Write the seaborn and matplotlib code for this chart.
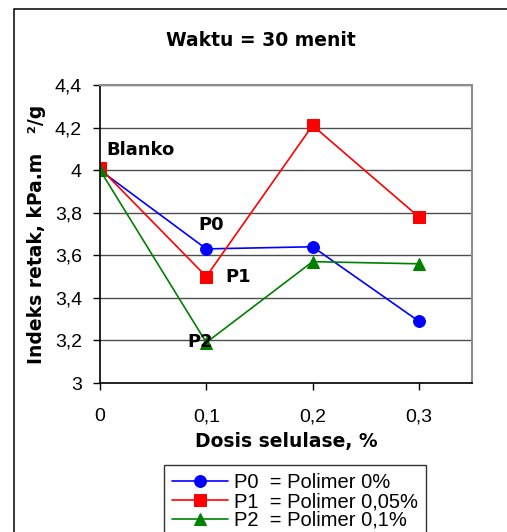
import numpy as np
import pandas as pd
import matplotlib
matplotlib.use('Agg')
import matplotlib.pyplot as plt
import seaborn as sns
from matplotlib.patches import Rectangle

# data
dosis = [0, 0.1, 0.2, 0.3]
p0 = [4.00, 3.63, 3.64, 3.29]
p1 = [4.01, 3.50, 4.21, 3.78]
p2 = [4.00, 3.19, 3.57, 3.56]
seri_label = ['P0  = Polimer 0%', 'P1  = Polimer 0,05%', 'P2  = Polimer 0,1%']
xtick_vals = [0, 0.1, 0.2, 0.3]
xtick_labels = ['0', '0,1', '0,2', '0,3']
ytick_vals = [3.0, 3.2, 3.4, 3.6, 3.8, 4.0, 4.2, 4.4]
ytick_labels = ['3', '3,2', '3,4', '3,6', '3,8', '4', '4,2', '4,4']
anotasi = ['Blanko', 'P0', 'P1', 'P2']
anotasi_x = [0.006, 0.093, 0.118, 0.082]
anotasi_y = [4.095, 3.742, 3.50, 3.194]

sns.set_style("white")
plt.rcParams['font.family'] = ['Liberation Sans', 'DejaVu Sans']
for k in ['text.color', 'axes.labelcolor', 'xtick.color', 'ytick.color']:
    plt.rcParams[k] = 'black'
tebal = dict(family='DejaVu Sans', fontweight='bold', color='black')

fig = plt.figure(figsize=(5.07, 5.32), dpi=100)
ax = fig.add_axes([100/507, 1-383/532, 372/507, 298/532])

# garis
warna = ['#0000ff', '#ff0000', '#008000']
marker = ['o', 's', '^']
for vals, c, m, lab in zip([p0, p1, p2], warna, marker, seri_label):
    sns.lineplot(x=dosis, y=vals, color=c, marker=m, markersize=8.5,
                 markeredgecolor=c, linewidth=1.2, label=lab, ax=ax)

ax.set_xlim(0, 0.35)
ax.set_ylim(3.0, 4.4)
ax.set_xticks(xtick_vals)
ax.set_xticklabels(xtick_labels)
ax.set_yticks(ytick_vals)
ax.set_yticklabels(ytick_labels)
ax.tick_params(axis='both', labelsize=14, direction='out', length=5,
               width=1, color='black', labelcolor='black', left=True, bottom=True)
ax.tick_params(axis='x', pad=13)
ax.tick_params(axis='y', pad=8)
ax.grid(axis='y', color='#4d4d4d', linewidth=1)
ax.grid(axis='x', visible=False)
ax.set_axisbelow(True)

for s in ['left', 'bottom']:
    ax.spines[s].set_color('black')
    ax.spines[s].set_linewidth(1.2)
for s in ['top', 'right']:
    ax.spines[s].set_color('#8c8c8c')
    ax.spines[s].set_linewidth(1.5)

for t, x, y in zip(anotasi, anotasi_x, anotasi_y):
    ax.text(x, y, t, fontsize=13, ha='left', va='center', **tebal)

ax.set_xlabel('Dosis selulase, %', fontsize=13.5, labelpad=5, **tebal)
ax.set_ylabel('Indeks retak, kPa.m   ²/g', fontsize=13.5, labelpad=6,
              **tebal)
fig.text(261/507, 1-40/532, 'Waktu = 30 menit', fontsize=13.5,
         ha='center', va='center', **tebal)

# legenda
h, l = ax.get_legend_handles_labels()
ax.get_legend().remove()
leg = fig.legend(h, l, loc='upper left', bbox_to_anchor=(164/507, 1-465/532),
                 fontsize=14.5, frameon=True, fancybox=False, borderaxespad=0,
                 handlelength=2.75, handletextpad=0.3, labelspacing=-0.02,
                 borderpad=0.42)
leg.get_frame().set_edgecolor('black')
leg.get_frame().set_linewidth(1.0)

# bingkai luar
fig.patches.append(Rectangle((14/507, -0.1), 1.2, 1-9/532+0.1,
                             transform=fig.transFigure, fill=False,
                             edgecolor='black', linewidth=1.1))

plt.savefig('out.png', dpi=100)
plt.close()
